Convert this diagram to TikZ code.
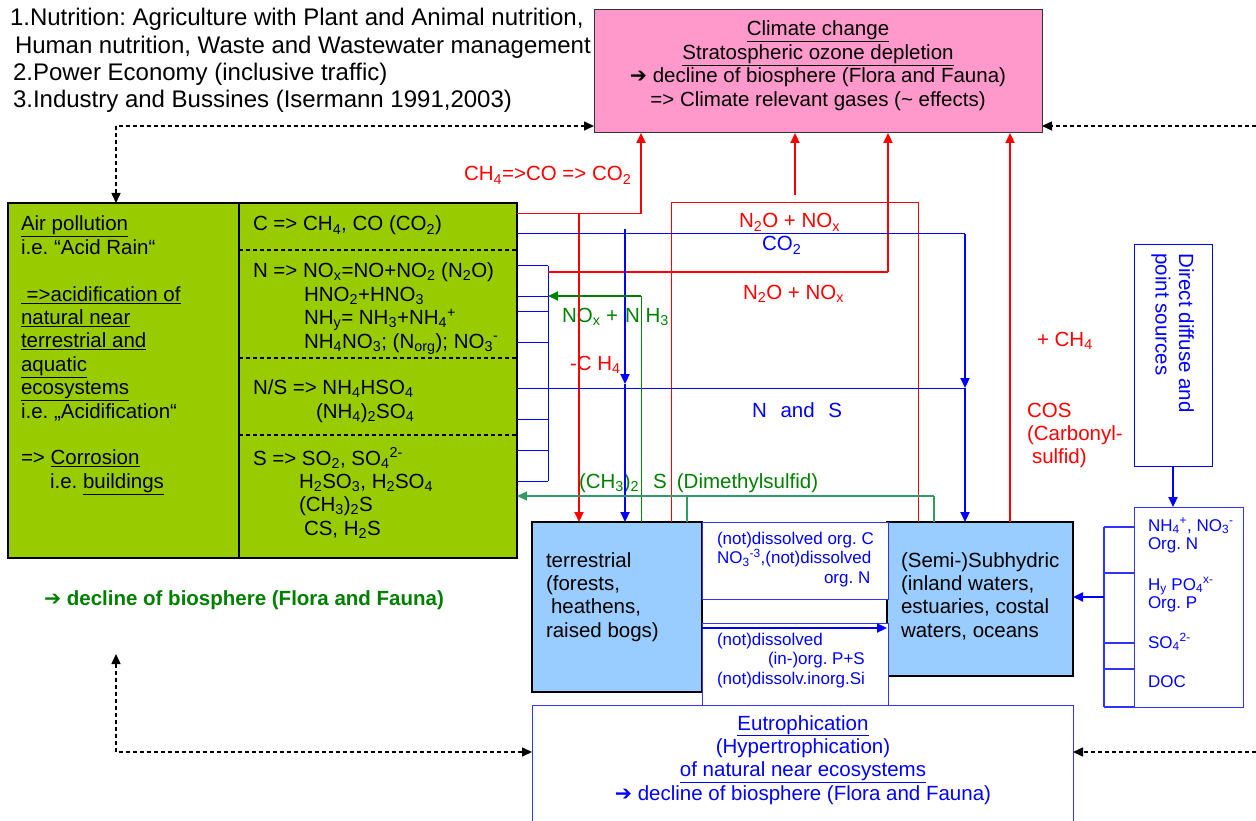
\documentclass[tikz,border=0pt]{standalone}
\usepackage{fontspec}
\setmainfont{Liberation Sans}
\newfontfamily\arrowfont{DejaVu Sans}
\usetikzlibrary{arrows.meta}
\frenchspacing
\newcommand{\bigarr}{{\arrowfont\bfseries ➔}}
\newcommand{\subs}[1]{\smash{\textsubscript{#1}}}
\newcommand{\sups}[1]{\smash{\textsuperscript{#1}}}
\newcommand{\fmain}{\fontsize{20.5}{23.4}\selectfont}
\newcommand{\fhead}{\fontsize{24}{27.3}\selectfont}
\newcommand{\fsmall}{\fontsize{17}{19.5}\selectfont}
\newcommand{\fright}{\fontsize{17}{18.5}\selectfont}
\newcommand{\linesL}[1]{\begin{tabular}[t]{@{}l@{}}#1\end{tabular}}
\newcommand{\linesC}[1]{\begin{tabular}[t]{@{}c@{}}#1\end{tabular}}
\definecolor{pinkfill}{HTML}{FF99CC}
\definecolor{greenfill}{HTML}{99CC00}
\definecolor{bluefill}{HTML}{99CCFF}
\definecolor{dgreen}{HTML}{008000}
\definecolor{mgreen}{HTML}{339966}
\definecolor{lblue}{HTML}{3333FF}
\begin{document}
\begin{tikzpicture}[x=1pt,y=-1pt,
  box/.style={anchor=north west, inner sep=0, outer sep=0},
  txt/.style={inner sep=0, outer sep=0, anchor=base west},
  ctxt/.style={inner sep=0, outer sep=0, anchor=base},
  tip/.style={-{Triangle[length=10pt,width=9pt]}},
  dashconn/.style={black, line width=1.5pt, dash pattern=on 4pt off 3pt},
  thinred/.style={red, line width=1pt},
  thickred/.style={red, line width=2.2pt},
  thinblue/.style={blue, line width=1pt},
  thickblue/.style={blue, line width=2.2pt}]
\useasboundingbox (0,0) rectangle (1256,821);
\clip (0,0) rectangle (1256,821);

% ---------- boxes ----------
\node[box, draw=black!80, line width=1pt, fill=pinkfill, minimum width=448, minimum height=123] (climate) at (594,10) {};
\node[box, draw=black, line width=1.3pt, fill=greenfill, minimum width=509, minimum height=355] (air) at (8,203) {};
\node[box, draw=black, line width=1.3pt, fill=bluefill, minimum width=170, minimum height=170] (terr) at (532,522) {};
\node[box, draw=black, line width=1.3pt, fill=bluefill, minimum width=186, minimum height=154] (subh) at (887,522) {};
\node[box, draw=lblue, line width=1pt, fill=white, minimum width=186, minimum height=77] (midtop) at (702,522) {};
\node[box, draw=lblue, line width=1pt, fill=white, minimum width=186, minimum height=83] (midbot) at (702,623) {};
\node[box, draw=lblue, line width=1pt, fill=white, minimum width=541, minimum height=130] (eutro) at (532,705) {};
\node[box, draw=blue, line width=1pt, fill=white, minimum width=78, minimum height=221] (direct) at (1134,245) {};
\node[box, draw=lblue, line width=1pt, fill=white, minimum width=109, minimum height=200] (nutr) at (1134,507) {};

% dividers inside the air pollution box
\draw[black, line width=1.3pt] (239,203) -- (239,558);
\foreach \yy in {250,358,435} \draw[black, line width=1.3pt, dash pattern=on 4pt off 3pt] (239,\yy) -- (517,\yy);

% ---------- texts ----------
\node[txt] (head) at (10,26) {\fhead\linesL{1.Nutrition: Agriculture with Plant and Animal nutrition,\\
\hspace{5pt}Human nutrition, Waste and Wastewater management\\
\hspace{3pt}2.Power Economy (inclusive traffic)\\
\hspace{3pt}3.Industry and Bussines (Isermann 1991,2003)}};

\node[ctxt] (climtxt) at (818,36) {\fmain\linesC{\underline{Climate change}\\
\underline{Stratospheric ozone depletion}\\
\bigarr\ decline of biosphere (Flora and Fauna)\\
=> Climate relevant gases (\textasciitilde\ effects)}};

\node[txt] (airtxt) at (21,231) {\fmain\linesL{\underline{Air pollution}\\
i.e. “Acid Rain“\\
\\
\underline{ =>acidification of}\\
\underline{natural near}\\
\underline{terrestrial and}\\
\underline{aquatic}\\
\underline{ecosystems}\\
i.e. „Acidification“\\
\\
=> \underline{Corrosion}\\
\hspace{29pt}i.e. \underline{buildings}}};

\node[txt] (ctxt) at (253,231) {\fmain C => CH\subs{4}, CO (CO\subs{2})};
\node[txt] (ntxt) at (253,277.8) {\fmain\linesL{N => NO\subs{x}=NO+NO\subs{2} (N\subs{2}O)\\
\hspace{51pt}HNO\subs{2}+HNO\subs{3}\\
\hspace{51pt}NH\subs{y}= NH\subs{3}+NH\subs{4}\sups{+}\\
\hspace{51pt}NH\subs{4}NO\subs{3}; (N\subs{org}); NO\subs{3}\sups{-}}};
\node[txt] (nstxt) at (253,394.8) {\fmain\linesL{N/S => NH\subs{4}HSO\subs{4}\\
\hspace{63pt}(NH\subs{4})\subs{2}SO\subs{4}}};
\node[txt] (stxt) at (253,465) {\fmain\linesL{S => SO\subs{2}, SO\subs{4}\sups{2-}\\
\hspace{46pt}H\subs{2}SO\subs{3}, H\subs{2}SO\subs{4}\\
\hspace{46pt}(CH\subs{3})\subs{2}S\\
\hspace{51pt}CS, H\subs{2}S}};

\node[txt] (terrtxt) at (546,567) {\fmain\linesL{terrestrial\\(forests,\\\hspace{5pt}heathens,\\raised bogs)}};
\node[txt] (subhtxt) at (901,567) {\fmain\linesL{(Semi-)Subhydric\\(inland waters,\\estuaries, costal\\waters, oceans}};

\node[txt, blue] (midtoptxt) at (717,544) {\fsmall\linesL{(not)dissolved org. C\\
NO\subs{3}\sups{-3},(not)dissolved\\
\hspace{107pt}org. N}};
\node[txt, blue] (midbottxt) at (717,645) {\fsmall\linesL{(not)dissolved\\
\hspace{51pt}(in-)org. P+S\\
(not)dissolv.inorg.Si}};

\node[ctxt, blue] (eutrotxt) at (803,730) {\fmain\linesC{\underline{Eutrophication}\\
(Hypertrophication)\\
\underline{of natural near ecosystems}\\
\bigarr\ decline of biosphere (Flora and Fauna)}};

\node[txt, dgreen, font=\bfseries] (decl) at (44,605) {\fmain\bigarr\ decline of biosphere (Flora and Fauna)};

\node[inner sep=0, rotate=-90, blue, font=\fmain] (directtxt) at (1172,333) {\linesL{Direct diffuse and\\point sources}};

\node[txt, blue] (nutrtxt) at (1148,531) {\fright\linesL{NH\subs{4}\sups{+}, NO\subs{3}\sups{-}\\Org. N}};
\node[txt, blue] (ptxt) at (1148,590) {\fright\linesL{H\subs{y} PO\subs{4}\sups{x-}\\Org. P}};
\node[txt, blue] (so4txt) at (1148,648) {\fright SO\subs{4}\sups{2-}};
\node[txt, blue] (doctxt) at (1148,687) {\fright DOC};

% connector labels
\node[txt, red] (lab1) at (464,181) {\fmain CH\subs{4}=>CO => CO\subs{2}};
\node[txt, red] (lab2) at (739,228) {\fmain N\subs{2}O + NO\subs{x}};
\node[txt, blue] (lab3) at (762,251) {\fmain CO\subs{2}};
\node[txt, red] (lab4) at (743,299) {\fmain N\subs{2}O + NO\subs{x}};
\node[txt, dgreen] (lab5) at (562,322) {\fmain NO\subs{x} +\hspace{7pt}N H\subs{3}};
\node[txt, red] (lab6) at (570,370) {\fmain -C H\subs{4}};
\node[txt, blue] (lab7) at (752,417) {\fmain N\hspace{8pt} and\hspace{8pt} S};
\node[txt, dgreen] (lab8) at (579,488) {\fmain (CH\subs{3})\subs{2}\hspace{14pt}S\hspace{10pt}(Dimethylsulfid)};
\node[txt, red] (lab9) at (1037,346) {\fmain + CH\subs{4}};
\node[txt, red] (lab10) at (1027,417) {\fmain\linesL{COS\\(Carbonyl-\\\hspace{5pt}sulfid)}};

% ---------- dashed connectors ----------
\coordinate (d1) at (116,126);
\coordinate (d2) at (1256,126);
\coordinate (d3) at (116,654);
\coordinate (d4) at (116,752);
\coordinate (d5) at (1256,752);
\draw[dashconn, {Triangle[length=10pt,width=9pt]}-{Triangle[length=10pt,width=9pt]}] (d1 |- air.north) -- (d1) -- (d1 -| climate.west);
\draw[dashconn, tip] (d2) -- (d2 -| climate.east);
\draw[dashconn, {Triangle[length=10pt,width=9pt]}-{Triangle[length=10pt,width=9pt]}] (d3) -- (d4) -- (d4 -| eutro.west);
\draw[dashconn, tip] (d5) -- (d5 -| eutro.east);

% ---------- blue bracket at air box ----------
\coordinate (bt) at (548,266);
\coordinate (bb) at (548,481);
\draw[thinblue] (bt) -- (bb);
\foreach \yy in {266,296,311,342,419,450,481} \draw[thinblue] (air.east |- 0,\yy) -- (548,\yy);

% ---------- red connectors ----------
\coordinate (r1) at (641,214);
\coordinate (r1b) at (579,214);
\draw[thinred] (air.east |- r1) -- (r1);
\draw[thickred, tip] (r1) -- (r1 |- climate.south);
\draw[thickred, tip] (r1b) -- (r1b |- terr.north);
\coordinate (rr1) at (671,203);
\coordinate (rr2) at (918,203);
\draw[thinred] (rr1 |- terr.north) -- (rr1) -- (rr2) -- (rr2 |- subh.north);
\coordinate (r3) at (795,195);
\draw[thickred, tip] (r3) -- (r3 |- climate.south);
\coordinate (r4a) at (548,272);
\coordinate (r4) at (888,272);
\draw[thinred, line width=1.4pt] (r4a) -- (r4);
\draw[thickred, tip] (r4) -- (r4 |- climate.south);
\coordinate (r5) at (1010,522);
\draw[thickred, tip] (r5) -- (r5 |- climate.south);

% ---------- blue connectors ----------
\coordinate (b1) at (965,234);
\coordinate (b1m) at (965,388);
\draw[thinblue] (air.east |- b1) -- (b1);
\draw[thickblue, tip] (b1) -- (b1m);
\draw[thickblue, tip] (b1m) -- (b1m |- subh.north);
\draw[thinblue] (air.east |- b1m) -- (b1m);
\coordinate (b2) at (625,229);
\coordinate (b2m) at (625,384);
\draw[thickblue, tip] (b2) -- (b2m);
\draw[thickblue, tip] (b2m) -- (b2m |- terr.north);
\coordinate (b3) at (702,628);
\draw[thickblue, tip] (b3) -- (b3 -| subh.west);
\draw[thickblue, tip] (direct.south) -- (direct.south |- nutr.north);
\coordinate (nb1) at (1104,527);
\coordinate (nb2) at (1104,707);
\draw[lblue, line width=1.2pt] (nb1) -- (nb2);
\foreach \yy in {527,573,643,669,707} \draw[lblue, line width=1.2pt] (1104,\yy) -- (nutr.west |- 0,\yy);
\coordinate (nb3) at (1104,597);
\draw[thickblue, tip] (nb3) -- (nb3 -| subh.east);

% ---------- green connectors ----------
\coordinate (g1) at (641,296);
\draw[dgreen, line width=1pt] (g1 |- terr.north) -- (g1);
\draw[dgreen, line width=2pt, tip] (g1) -- (548,296);
\coordinate (g2) at (934,496);
\coordinate (g2b) at (687,496);
\draw[mgreen, line width=1.4pt] (g2 |- subh.north) -- (g2);
\draw[mgreen, line width=1.4pt, tip] (g2) -- (g2 -| air.east);
\draw[mgreen, line width=1.4pt] (g2b) -- (g2b |- terr.north);
\end{tikzpicture}
\end{document}
